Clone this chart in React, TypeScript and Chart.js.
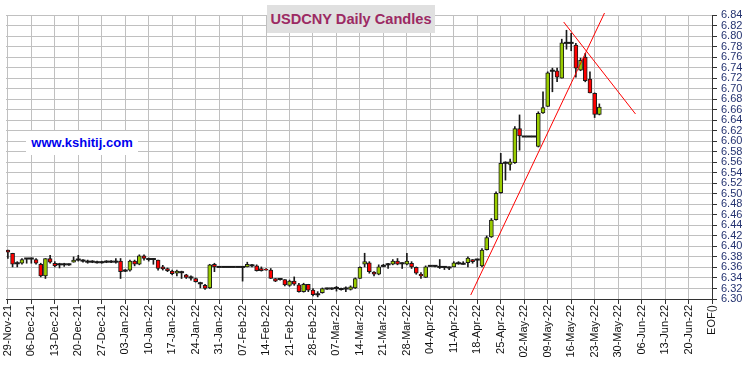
import React, { useEffect, useRef } from 'react';
import { Chart, registerables } from 'chart.js';

Chart.register(...registerables);

const TITLE = 'USDCNY Daily Candles';
const WATERMARK = 'www.kshitij.com';

const TICK_LABELS = [
  '29-Nov-21', '06-Dec-21', '13-Dec-21', '20-Dec-21', '27-Dec-21', '03-Jan-22', '10-Jan-22',
  '17-Jan-22', '24-Jan-22', '31-Jan-22', '07-Feb-22', '14-Feb-22', '21-Feb-22', '28-Feb-22',
  '07-Mar-22', '14-Mar-22', '21-Mar-22', '28-Mar-22', '04-Apr-22', '11-Apr-22', '18-Apr-22',
  '25-Apr-22', '02-May-22', '09-May-22', '16-May-22', '23-May-22', '30-May-22', '06-Jun-22',
  '13-Jun-22', '20-Jun-22', 'EOF()',
];
const DAYS_PER_TICK = 5;

const Y_MIN = 6.3;
const Y_MAX = 6.84;
const Y_STEP = 0.02;

// Daily OHLC, one value per trading day starting 29-Nov-21
const OPEN = [
  6.393, 6.387, 6.368, 6.368, 6.377, 6.377, 6.375, 6.366, 6.344, 6.377,
  6.368, 6.366, 6.366, 6.366, 6.370, 6.375, 6.373, 6.371, 6.371, 6.370,
  6.370, 6.371, 6.371, 6.371, 6.372, 6.354, 6.355, 6.372, 6.366, 6.382,
  6.376, 6.376, 6.374, 6.361, 6.358, 6.353, 6.349, 6.351, 6.346, 6.341,
  6.339, 6.330, 6.326, 6.321, 6.366, 6.361, 6.361, 6.361, 6.361, 6.361,
  6.361, 6.361, 6.364, 6.363, 6.358, 6.357, 6.355, 6.339, 6.338, 6.337,
  6.326, 6.334, 6.327, 6.314, 6.328, 6.317, 6.309, 6.312, 6.320, 6.320,
  6.321, 6.319, 6.320, 6.318, 6.321, 6.339, 6.366, 6.369, 6.351, 6.347,
  6.363, 6.366, 6.366, 6.372, 6.368, 6.366, 6.368, 6.360, 6.347, 6.341,
  6.363, 6.363, 6.361, 6.361, 6.360, 6.361, 6.368, 6.367, 6.369, 6.375,
  6.375, 6.363, 6.394, 6.418, 6.451, 6.502, 6.559, 6.556, 6.559, 6.624,
  6.609, 6.609, 6.609, 6.590, 6.654, 6.666, 6.734, 6.734, 6.720, 6.787,
  6.787, 6.783, 6.735, 6.760, 6.718, 6.691, 6.651,
];
const HIGH = [
  6.393, 6.387, 6.371, 6.377, 6.377, 6.378, 6.377, 6.368, 6.377, 6.383,
  6.371, 6.368, 6.368, 6.367, 6.380, 6.383, 6.375, 6.374, 6.373, 6.372,
  6.372, 6.373, 6.373, 6.377, 6.377, 6.356, 6.374, 6.374, 6.384, 6.384,
  6.378, 6.377, 6.374, 6.364, 6.359, 6.355, 6.355, 6.353, 6.347, 6.344,
  6.340, 6.332, 6.328, 6.366, 6.368, 6.361, 6.361, 6.361, 6.361, 6.361,
  6.361, 6.370, 6.366, 6.365, 6.361, 6.358, 6.358, 6.339, 6.338, 6.337,
  6.336, 6.342, 6.330, 6.330, 6.328, 6.320, 6.314, 6.321, 6.321, 6.321,
  6.324, 6.321, 6.323, 6.325, 6.340, 6.361, 6.387, 6.371, 6.352, 6.365,
  6.366, 6.368, 6.375, 6.377, 6.369, 6.387, 6.371, 6.361, 6.350, 6.363,
  6.364, 6.364, 6.375, 6.362, 6.361, 6.371, 6.371, 6.371, 6.380, 6.375,
  6.376, 6.396, 6.420, 6.453, 6.504, 6.577, 6.561, 6.566, 6.628, 6.650,
  6.609, 6.609, 6.609, 6.656, 6.694, 6.732, 6.739, 6.739, 6.794, 6.811,
  6.805, 6.786, 6.758, 6.767, 6.732, 6.692, 6.671,
];
const LOW = [
  6.377, 6.361, 6.361, 6.366, 6.368, 6.368, 6.366, 6.342, 6.339, 6.368,
  6.361, 6.359, 6.362, 6.364, 6.370, 6.372, 6.370, 6.368, 6.369, 6.368,
  6.368, 6.369, 6.369, 6.368, 6.339, 6.352, 6.353, 6.363, 6.365, 6.374,
  6.372, 6.366, 6.355, 6.355, 6.352, 6.346, 6.344, 6.339, 6.339, 6.336,
  6.332, 6.321, 6.318, 6.320, 6.352, 6.361, 6.361, 6.361, 6.361, 6.361,
  6.334, 6.361, 6.361, 6.353, 6.353, 6.355, 6.339, 6.333, 6.336, 6.325,
  6.324, 6.326, 6.313, 6.313, 6.314, 6.306, 6.304, 6.311, 6.318, 6.318,
  6.315, 6.317, 6.314, 6.317, 6.320, 6.339, 6.361, 6.349, 6.344, 6.346,
  6.361, 6.358, 6.365, 6.365, 6.358, 6.365, 6.358, 6.347, 6.339, 6.341,
  6.362, 6.361, 6.358, 6.356, 6.356, 6.361, 6.366, 6.366, 6.361, 6.368,
  6.361, 6.361, 6.393, 6.417, 6.450, 6.501, 6.526, 6.545, 6.558, 6.583,
  6.609, 6.609, 6.609, 6.589, 6.653, 6.666, 6.694, 6.713, 6.720, 6.775,
  6.772, 6.722, 6.734, 6.713, 6.692, 6.645, 6.650,
];
const CLOSE = [
  6.389, 6.366, 6.368, 6.375, 6.377, 6.377, 6.368, 6.344, 6.377, 6.370,
  6.363, 6.366, 6.366, 6.366, 6.374, 6.375, 6.373, 6.371, 6.371, 6.370,
  6.370, 6.371, 6.371, 6.371, 6.352, 6.354, 6.372, 6.366, 6.382, 6.377,
  6.376, 6.376, 6.358, 6.357, 6.354, 6.348, 6.353, 6.351, 6.341, 6.341,
  6.333, 6.330, 6.320, 6.365, 6.361, 6.361, 6.361, 6.361, 6.361, 6.361,
  6.361, 6.366, 6.364, 6.354, 6.354, 6.355, 6.339, 6.334, 6.338, 6.327,
  6.334, 6.328, 6.314, 6.328, 6.317, 6.308, 6.309, 6.320, 6.320, 6.320,
  6.321, 6.319, 6.320, 6.323, 6.339, 6.360, 6.371, 6.352, 6.347, 6.361,
  6.363, 6.366, 6.372, 6.366, 6.368, 6.372, 6.361, 6.349, 6.344, 6.361,
  6.363, 6.363, 6.361, 6.361, 6.360, 6.369, 6.368, 6.367, 6.378, 6.371,
  6.375, 6.393, 6.417, 6.450, 6.501, 6.558, 6.559, 6.561, 6.624, 6.610,
  6.609, 6.609, 6.609, 6.653, 6.664, 6.730, 6.734, 6.722, 6.787, 6.787,
  6.787, 6.739, 6.754, 6.715, 6.692, 6.651, 6.665,
];

// Trend lines: [day index, price] end points
const TREND_UP = [
  { x: 98.6, y: 6.3076 },
  { x: 127.1, y: 6.8438 },
];
const TREND_DOWN = [
  { x: 118.4, y: 6.8267 },
  { x: 133.7, y: 6.6518 },
];

const UP_COLOR = '#99cc00';
const DOWN_COLOR = '#ff0000';
const INK = '#1a1a1a';
const FONT = '"Liberation Sans", Arial, Helvetica, sans-serif';

export default function App() {
  const ref = useRef<HTMLCanvasElement>(null);

  useEffect(() => {
    const canvas = ref.current;
    if (!canvas) return;
    Chart.defaults.font.family = FONT;

    const idx = OPEN.map((_, i) => i);
    const isDoji = (i: number) => Math.abs(OPEN[i] - CLOSE[i]) < 0.0015;
    const bodyIdx = idx.filter((i) => !isDoji(i));
    const bodies = bodyIdx.map((i) => ({ x: i, y: [OPEN[i], CLOSE[i]] }));
    const bodyColors = bodyIdx.map((i) => (CLOSE[i] > OPEN[i] ? UP_COLOR : DOWN_COLOR));
    const dojis = idx.filter(isDoji).map((i) => ({ x: i, y: CLOSE[i] }));
    const wicks = idx.map((i) => ({ x: i, y: [LOW[i], HIGH[i]] }));

    const chart = new Chart(canvas, {
      type: 'bar',
      data: {
        datasets: [
          {
            type: 'line',
            data: TREND_UP,
            borderColor: '#ff0000',
            borderWidth: 1,
            pointRadius: 0,
            clip: false,
            order: 0,
          } as any,
          {
            type: 'line',
            data: TREND_DOWN,
            borderColor: '#ff0000',
            borderWidth: 1,
            pointRadius: 0,
            clip: false,
            order: 0,
          } as any,
          {
            type: 'bar',
            data: bodies,
            backgroundColor: bodyColors,
            borderColor: INK,
            borderWidth: 1,
            borderSkipped: false,
            barThickness: 4,
            grouped: false,
            order: 1,
          } as any,
          {
            type: 'scatter',
            data: dojis,
            pointStyle: 'line',
            pointRadius: 2.5,
            borderColor: INK,
            borderWidth: 2,
            order: 2,
          } as any,
          {
            type: 'bar',
            data: wicks,
            backgroundColor: INK,
            borderWidth: 0,
            barThickness: 1,
            grouped: false,
            order: 3,
          } as any,
        ],
      },
      options: {
        animation: false,
        responsive: false,
        maintainAspectRatio: false,
        devicePixelRatio: 1,
        layout: { padding: { top: 15, left: 5, right: 0, bottom: 0 } },
        plugins: {
          legend: { display: false },
          tooltip: { enabled: false },
          title: { display: false },
        },
        scales: {
          x: {
            type: 'linear',
            min: -0.4,
            max: (TICK_LABELS.length - 1) * DAYS_PER_TICK,
            offset: false,
            grid: {
              color: '#c0c0c0',
              offset: false,
              lineWidth: 1,
              tickLength: 5,
              tickColor: '#333333',
            },
            border: { display: true, color: '#333333', width: 1 },
            afterBuildTicks: (s: any) => {
              s.ticks = TICK_LABELS.map((_, k) => ({ value: k * DAYS_PER_TICK }));
            },
            afterFit: (s: any) => {
              s.height = 67;
              s.paddingLeft = 0;
              s.paddingRight = 0;
            },
            ticks: {
              autoSkip: false,
              minRotation: 90,
              maxRotation: 90,
              padding: 1,
              color: '#111111',
              font: { size: 11, family: FONT },
              callback: (_v: any, i: number) => TICK_LABELS[i],
            },
          } as any,
          y: {
            type: 'linear',
            position: 'right',
            min: Y_MIN,
            max: Y_MAX,
            grid: {
              color: '#c0c0c0',
              lineWidth: 1,
              tickLength: 5,
              tickColor: '#333333',
            },
            border: { display: true, color: '#333333', width: 1 },
            afterBuildTicks: (s: any) => {
              const n = Math.round((Y_MAX - Y_MIN) / Y_STEP);
              const t = [];
              for (let k = 0; k <= n; k++) t.push({ value: Math.round((Y_MIN + k * Y_STEP) * 100) / 100 });
              s.ticks = t;
            },
            afterFit: (s: any) => {
              s.width = 38;
              s.paddingTop = 0;
              s.paddingBottom = 0;
            },
            ticks: {
              autoSkip: false,
              padding: 4,
              color: '#243370',
              font: { size: 11, family: FONT },
              callback: (v: any) => Number(v).toFixed(2),
            },
          } as any,
        },
      },
    });
    return () => chart.destroy();
  }, []);

  return (
    <div style={{ position: 'absolute', left: 0, top: 0, width: 750, height: 366, background: '#fff', overflow: 'hidden' }}>
      <canvas ref={ref} width={750} height={366} style={{ display: 'block', width: 750, height: 366 }} />
      <div
        style={{
          position: 'absolute',
          left: 267,
          top: 5,
          width: 168,
          height: 28,
          background: '#e0e0e0',
          color: '#9c2a63',
          fontFamily: FONT,
          fontWeight: 'bold',
          fontSize: 14.6,
          lineHeight: '28px',
          textAlign: 'center',
          whiteSpace: 'nowrap',
        }}
      >
        {TITLE}
      </div>
      <div
        style={{
          position: 'absolute',
          left: 26,
          top: 131,
          width: 112,
          height: 24,
          background: '#ffffff',
          color: '#0000ee',
          fontFamily: FONT,
          fontWeight: 'bold',
          fontSize: 13,
          lineHeight: '24px',
          textAlign: 'center',
          whiteSpace: 'nowrap',
        }}
      >
        {WATERMARK}
      </div>
    </div>
  );
}
